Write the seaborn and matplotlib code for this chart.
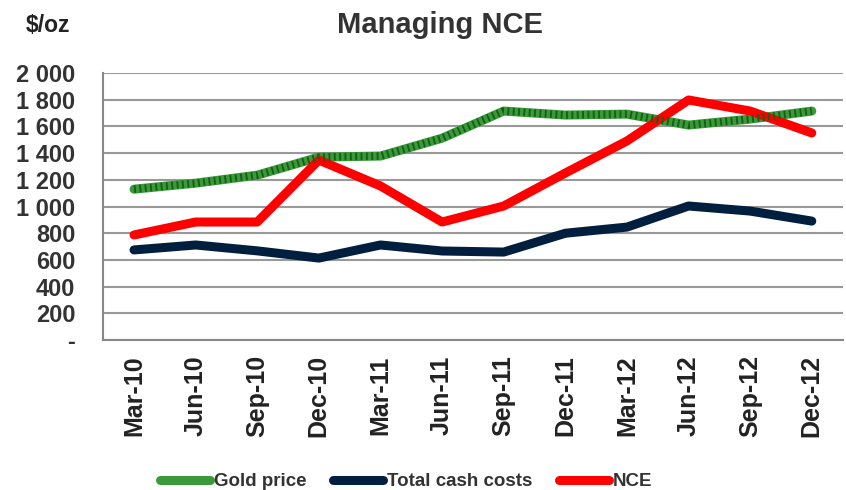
import pandas as pd
import matplotlib.pyplot as plt
import seaborn as sns
from matplotlib.lines import Line2D

# Dati
quarters = ["Mar-10", "Jun-10", "Sep-10", "Dec-10", "Mar-11", "Jun-11",
            "Sep-11", "Dec-11", "Mar-12", "Jun-12", "Sep-12", "Dec-12"]
gold_price = [1130, 1175, 1235, 1370, 1378, 1512, 1715, 1685, 1692, 1610, 1655, 1715]
cash_costs = [675, 712, 668, 614, 712, 667, 659, 800, 846, 1004, 966, 891]
nce = [787, 884, 884, 1348, 1154, 884, 1004, 1251, 1491, 1798, 1715, 1551]
y_ticks = [0, 200, 400, 600, 800, 1000, 1200, 1400, 1600, 1800, 2000]

df = pd.DataFrame({"quarter": quarters * 3,
                   "value": gold_price + cash_costs + nce,
                   "series": ["Gold price"] * 12 + ["Total cash costs"] * 12 + ["NCE"] * 12})
df["pos"] = list(range(12)) * 3

sns.set_style("white")
plt.rcParams["font.family"] = ["Liberation Sans", "DejaVu Sans"]

fig = plt.figure(figsize=(8.46, 4.9), dpi=100)
ax = fig.add_axes([0.122, 0.306, 0.874, 0.545])

palette = {"Gold price": "#3a9a3a", "Total cash costs": "#001f3f", "NCE": "#ff0000"}
sns.lineplot(data=df, x="pos", y="value", hue="series", palette=palette,
             linewidth=6.5, ax=ax, legend=False, solid_capstyle="round", zorder=3)

# texture della linea dell'oro
ax.plot(range(12), gold_price, color="#166016", linewidth=5.5, linestyle=(0, (0.25, 0.45)),
        zorder=4, dash_capstyle="butt")

ax.set_xlim(-0.5, 11.5)
ax.set_ylim(0, 2000)
ax.set_yticks(y_ticks)
ax.set_yticklabels(["-" if v == 0 else f"{v:,}".replace(",", " ") for v in y_ticks],
                   fontsize=17, fontweight="bold", color="#333333")
ax.set_xticks(range(12))
ax.set_xticklabels(quarters, rotation=90, fontsize=18, fontweight="bold", color="#222222")
ax.set_xticks([i - 0.5 for i in range(13)], minor=True)
ax.tick_params(axis="x", which="major", length=0, pad=11)
ax.tick_params(axis="x", which="minor", length=7, color="#888888", width=1.2, direction="out")
ax.tick_params(axis="y", length=7, color="#888888", width=1.2, direction="out", pad=13)
ax.yaxis.grid(True, color="#999999", linewidth=1.5)
ax.set_axisbelow(True)
ax.set_xlabel("")
ax.set_ylabel("")
for s in ["top", "right"]:
    ax.spines[s].set_visible(False)
for s in ["left", "bottom"]:
    ax.spines[s].set_color("#888888")
    ax.spines[s].set_linewidth(1.5)

fig.text(0.52, 0.948, "Managing NCE", ha="center", va="center",
         fontsize=21, fontweight="bold", color="#333333")
fig.text(0.057, 0.948, "$/oz", ha="center", va="center",
         fontsize=16.5, fontweight="bold", color="#222222")

handles = [Line2D([], [], color=palette[k], linewidth=6.5, solid_capstyle="round")
           for k in ["Gold price", "Total cash costs", "NCE"]]
fig.legend(handles, ["Gold price", "Total cash costs", "NCE"], loc="lower center",
           bbox_to_anchor=(0.48, -0.035), ncol=3, frameon=False, handlelength=2.7,
           handletextpad=0.2, columnspacing=1.4,
           prop={"size": 13.5, "weight": "bold"}, labelcolor="#333333")

plt.savefig("out.png", dpi=100)
